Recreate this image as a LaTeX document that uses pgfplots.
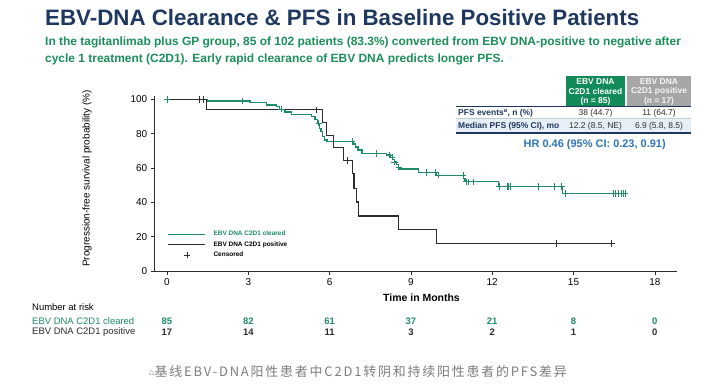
\documentclass[border=0pt]{standalone}
\usepackage{fontspec}
\setmainfont{Liberation Sans}
\newfontfamily\cjk[LetterSpace=14]{Noto Sans CJK SC}
\newfontfamily\dejavu{DejaVu Sans}
\usepackage{pgfplots}
\usepackage{pgfplotstable}
\pgfplotsset{compat=1.18}
\definecolor{kmgreen}{RGB}{30,140,100}
\definecolor{kmblack}{RGB}{45,45,45}
\definecolor{navy}{RGB}{31,56,96}
\definecolor{subgreen}{RGB}{28,142,90}
\definecolor{hdrgreen}{RGB}{18,138,90}
\definecolor{hdrgrey}{RGB}{166,166,166}
\definecolor{rowblue}{RGB}{230,239,245}
\definecolor{hrblue}{RGB}{46,117,182}
\definecolor{capgrey}{RGB}{125,125,125}

\pgfplotstableread{
t s
0 100
1.5 99
3.06 98.1
3.68 96.7
4.05 95.8
4.15 94.3
4.35 92.7
4.6 91.3
5.34 89.9
5.46 88.4
5.55 86.1
5.62 83.2
5.68 81.2
5.74 78.3
5.8 76.3
5.9 75.4
6.88 74.0
6.96 72.3
7.05 70.5
7.2 68.6
8.1 67.6
8.25 66.3
8.33 65.0
8.4 63.5
8.47 62.0
8.53 60.5
8.6 59.4
9.28 57.3
9.95 55.8
10.93 54.0
11.0 52.0
12.22 49.3
14.6 45.2
16.9 45.2
}\greenkm

\pgfplotstableread{
t s
0 100
2.77 99
4.23 94.3
5.6 86.1
6.83 75.4
7.71 68.6
8.2 67.6
8.3 66.3
8.4 63.5
8.55 60.5
9.58 57.3
9.9 57.3
10.0 55.8
10.93 55.8
11.05 52.0
11.1 52.0
11.3 52.0
12.25 49.3
12.55 49.3
12.6 49.3
12.65 49.3
13.7 49.3
14.28 49.3
14.56 49.3
14.7 45.2
16.45 45.2
16.55 45.2
16.65 45.2
16.75 45.2
16.82 45.2
16.9 45.2
}\greencens

\pgfplotstableread{
t s
0 100
1.46 94
5.75 86.5
5.88 79
6.15 72.2
6.5 64.5
6.83 56.7
6.9 48.3
6.99 40.2
7.07 32
8.55 24.3
9.95 16
16.4 16
}\blackkm

\pgfplotstableread{
t s
1.19 100
1.33 100
5.5 94
6.64 64.5
14.38 16
16.4 16
}\blackcens

\begin{document}
\begin{tikzpicture}
\useasboundingbox (0,0) rectangle (714bp,387bp);
\fill[white] (0,0) rectangle (714bp,387bp);

% Title and subtitle
\node[anchor=base west, inner sep=0, text=navy, font=\fontsize{22.4}{26}\selectfont\bfseries] at (45bp,361bp) {EBV-DNA Clearance \& PFS in Baseline Positive Patients};
\node[anchor=base west, inner sep=0, text=subgreen, font=\fontsize{12}{14}\selectfont\bfseries] at (45bp,341bp) {In the tagitanlimab plus GP group, 85 of 102 patients (83.3\%) converted from EBV DNA-positive to negative after};
\node[anchor=base west, inner sep=0, text=subgreen, font=\fontsize{12}{14}\selectfont\bfseries] at (45bp,324bp) {cycle 1 treatment (C2D1). Early rapid clearance of EBV DNA predicts longer PFS.};

% Table
\fill[hdrgreen] (566bp,281bp) rectangle (625bp,310.5bp);
\fill[hdrgrey] (627bp,281bp) rectangle (691bp,310.5bp);
\fill[rowblue] (456bp,255bp) rectangle (691bp,268bp);
\draw[navy, line width=0.8bp] (456bp,280.5bp) -- (691bp,280.5bp);
\draw[rowblue!70!gray, line width=0.5bp] (456bp,268.3bp) -- (691bp,268.3bp);
\draw[navy, line width=1.5bp] (456bp,254.2bp) -- (691bp,254.2bp);
\begin{scope}[every node/.style={inner sep=0, font=\fontsize{8.5}{10}\selectfont\bfseries}]
\node[text=white] at (595.5bp,305.3bp) {EBV DNA};
\node[text=white] at (595.5bp,295.3bp) {C2D1 cleared};
\node[text=white] at (595.5bp,285.3bp) {(n = 85)};
\node[text=white!92!gray] at (659bp,305.3bp) {EBV DNA};
\node[text=white!92!gray] at (659bp,295.3bp) {C2D1 positive};
\node[text=white!92!gray] at (659bp,285.3bp) {(n = 17)};
\node[anchor=west, text=navy] at (458bp,273.7bp) {PFS events\textsuperscript{a}, n (\%)};
\node[anchor=west, text=navy] at (458bp,260.8bp) {Median PFS (95\% CI), mo};
\end{scope}
\begin{scope}[every node/.style={inner sep=0, text=kmblack, font=\fontsize{8.5}{10}\selectfont}]
\node at (595.5bp,273.7bp) {38 (44.7)};
\node at (659bp,273.7bp) {11 (64.7)};
\node at (595.5bp,260.8bp) {12.2 (8.5, NE)};
\node at (659bp,260.8bp) {6.9 (5.8, 8.5)};
\end{scope}
\node[inner sep=0, text=hrblue, font=\fontsize{11}{13}\selectfont\bfseries] at (594.7bp,242bp) {HR 0.46 (95\% CI: 0.23, 0.91)};

% Axis labels
\node[rotate=90, inner sep=0, font=\fontsize{10}{12}\selectfont] at (87bp,208.5bp) {Progression-free survival probability (\%)};
\node[inner sep=0, font=\fontsize{10.5}{12}\selectfont\bfseries] at (421.5bp,89bp) {Time in Months};

% Number at risk labels
\node[anchor=west, inner sep=0, font=\fontsize{9.5}{11}\selectfont] at (32bp,80.3bp) {Number at risk};
\node[anchor=west, inner sep=0, text=kmgreen, font=\fontsize{9.5}{11}\selectfont] at (32bp,66.3bp) {EBV DNA C2D1 cleared};
\node[anchor=west, inner sep=0, text=kmblack, font=\fontsize{9.5}{11}\selectfont] at (32bp,54.7bp) {EBV DNA C2D1 positive};

% Caption
\node[anchor=west, inner sep=0, text=capgrey, font=\fontsize{13}{15}\selectfont\cjk] at (149bp,15.3bp) {\raisebox{0.35ex}{\dejavu\fontsize{7}{8}\selectfont △}基线EBV-DNA阳性患者中C2D1转阴和持续阳性患者的PFS差异};

\begin{axis}[
  at={(154.8bp,116bp)}, anchor=south west,
  scale only axis, width=521.7bp, height=175bp,
  xmin=-0.45, xmax=18.8, ymin=0, ymax=102,
  axis lines=left, axis line style={-, line width=0.8pt, kmblack},
  xtick={0,3,...,18}, ytick={0,20,...,100},
  tick align=outside, major tick length=4bp,
  tick style={kmblack, line width=0.6pt},
  ticklabel style={font=\fontsize{10}{12}\selectfont},
  /pgf/number format/assume math mode=true,
  clip=false,
  legend style={at={(axis cs:0.02,24.2)}, anchor=north west, draw=none, fill=none,
    font=\fontsize{6.5}{7.5}\selectfont\bfseries, inner sep=0pt, row sep=1.2bp,
    nodes={inner sep=1.5bp}, cells={anchor=west},
    /tikz/every odd column/.append style={column sep=6bp}},
  legend image code/.code={\draw[mark repeat=2,mark phase=2,#1] plot coordinates {(0bp,0bp) (18.5bp,0bp) (37bp,0bp)};},
]
\addplot[const plot, kmgreen, line width=1.3pt] table[x=t,y=s] {\greenkm};
\addlegendentry{\textcolor{kmgreen}{EBV DNA C2D1 cleared}}
\addplot[const plot, kmblack, line width=1.2pt] table[x=t,y=s] {\blackkm};
\addlegendentry{EBV DNA C2D1 positive}
\addplot[only marks, mark=+, mark size=3.2bp, kmgreen, mark options={line width=0.6pt}, forget plot] table[x=t,y=s] {\greencens};
\addplot[only marks, mark=+, mark size=3.2bp, kmblack, mark options={line width=0.6pt}, forget plot] table[x=t,y=s] {\blackcens};
\addlegendimage{only marks, mark=+, mark size=3.2bp, kmblack, mark options={line width=0.6pt}}
\addlegendentry{Censored}

% at-risk numbers
\node[inner sep=0, text=kmgreen, font=\fontsize{9.5}{11}\selectfont\bfseries] at (axis cs:0,-29) {85};
\node[inner sep=0, text=kmgreen, font=\fontsize{9.5}{11}\selectfont\bfseries] at (axis cs:3,-29) {82};
\node[inner sep=0, text=kmgreen, font=\fontsize{9.5}{11}\selectfont\bfseries] at (axis cs:6,-29) {61};
\node[inner sep=0, text=kmgreen, font=\fontsize{9.5}{11}\selectfont\bfseries] at (axis cs:9,-29) {37};
\node[inner sep=0, text=kmgreen, font=\fontsize{9.5}{11}\selectfont\bfseries] at (axis cs:12,-29) {21};
\node[inner sep=0, text=kmgreen, font=\fontsize{9.5}{11}\selectfont\bfseries] at (axis cs:15,-29) {8};
\node[inner sep=0, text=kmgreen, font=\fontsize{9.5}{11}\selectfont\bfseries] at (axis cs:18,-29) {0};
\node[inner sep=0, text=kmblack, font=\fontsize{9.5}{11}\selectfont\bfseries] at (axis cs:0,-35.8) {17};
\node[inner sep=0, text=kmblack, font=\fontsize{9.5}{11}\selectfont\bfseries] at (axis cs:3,-35.8) {14};
\node[inner sep=0, text=kmblack, font=\fontsize{9.5}{11}\selectfont\bfseries] at (axis cs:6,-35.8) {11};
\node[inner sep=0, text=kmblack, font=\fontsize{9.5}{11}\selectfont\bfseries] at (axis cs:9,-35.8) {3};
\node[inner sep=0, text=kmblack, font=\fontsize{9.5}{11}\selectfont\bfseries] at (axis cs:12,-35.8) {2};
\node[inner sep=0, text=kmblack, font=\fontsize{9.5}{11}\selectfont\bfseries] at (axis cs:15,-35.8) {1};
\node[inner sep=0, text=kmblack, font=\fontsize{9.5}{11}\selectfont\bfseries] at (axis cs:18,-35.8) {0};
\end{axis}
\end{tikzpicture}
\end{document}
